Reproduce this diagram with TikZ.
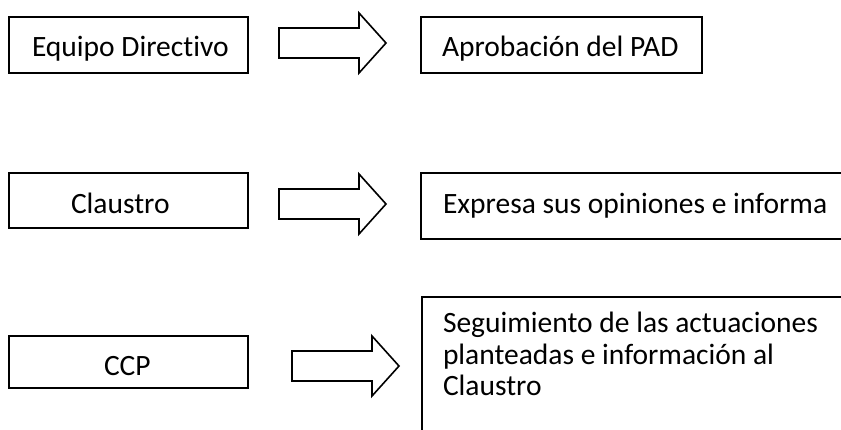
\documentclass[tikz,border=0pt]{standalone}
\usepackage{fontspec}
\setmainfont{Carlito}[RawFeature={-liga;-clig}]
\tikzset{
  box/.style={draw=black, line width=1.8pt, inner sep=0pt, outer sep=0pt, fill=none},
  lbl/.style={inner sep=0pt, outer sep=0pt, anchor=base west, font=\fontsize{29.5}{32}\selectfont},
  blockarrow/.pic={\draw[line width=1.6pt, line join=miter] (0,-15) -- (80,-15) -- (80,-30) -- (107,0) -- (80,30) -- (80,15) -- (0,15) -- cycle;}
}
\begin{document}
\begin{tikzpicture}[x=1pt,y=-1pt]
\useasboundingbox (0,0) rectangle (841,429);
\clip (0,0) rectangle (841,429);
\fill[white] (0,0) rectangle (841,429);
% left boxes
\node[box, minimum width=239pt, minimum height=56pt] (b1) at (128.5,45) {};
\node[box, minimum width=239pt, minimum height=55pt] (b3) at (128.5,200.5) {};
\node[box, minimum width=239pt, minimum height=52pt] (b5) at (128.5,362) {};
% right boxes
\node[box, minimum width=281pt, minimum height=56pt] (b2) at (561.5,45) {};
\node[box, minimum width=479pt, minimum height=66pt] (b4) at (660.5,206) {};
\node[box, minimum width=478pt, minimum height=163pt] (b6) at (661,378.5) {};
% block arrows
\pic at (279,43) {blockarrow};
\pic at (279,204) {blockarrow};
\pic at (292,366) {blockarrow};
% texts
\node[lbl] (t1) at (32,56) {Equipo Directivo};
\node[lbl] (t3) at (71,213) {Claustro};
\node[lbl] (t5) at (104,375) {CCP};
\node[lbl] (t2) at (442,56) {Aprobación del PAD};
\node[lbl] (t4) at (443,213) {Expresa sus opiniones e informa};
\node[lbl] (t6a) at (443,332.7) {Seguimiento de las actuaciones};
\node[lbl] (t6b) at (443,364) {planteadas e información al};
\node[lbl] (t6c) at (443,395) {Claustro};
\end{tikzpicture}
\end{document}
